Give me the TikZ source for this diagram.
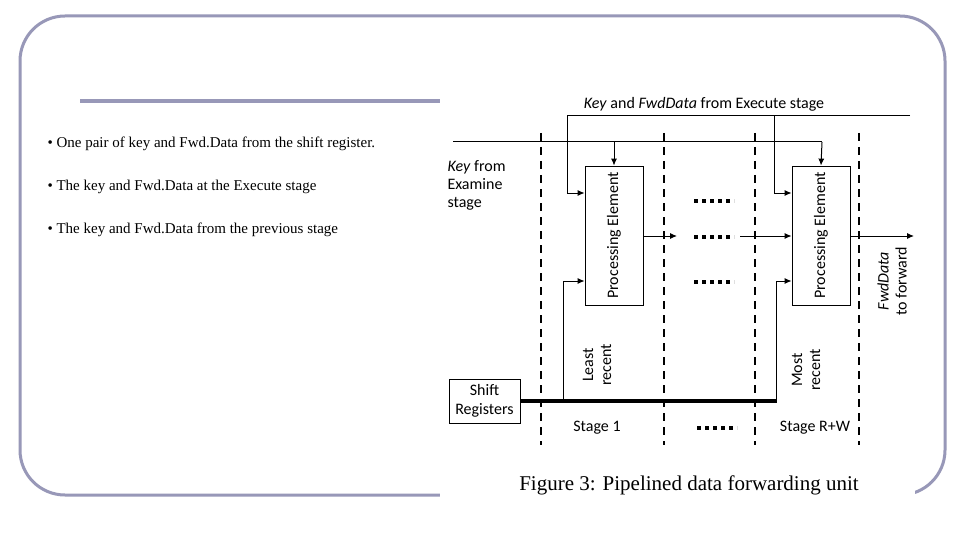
\documentclass[tikz,border=0pt]{standalone}
\usepackage{fontspec}
\setmainfont{Liberation Serif}
\newfontfamily\carl{Carlito}
\usetikzlibrary{arrows.meta}
\begin{document}
\begin{tikzpicture}[x=1pt,y=-1pt,
  dashv/.style={line width=2.5pt, dash pattern=on 8pt off 6pt},
  pe/.style={draw, line width=0.8pt, minimum width=58pt, minimum height=139pt, inner sep=0pt},
  lbl/.style={font=\carl\fontsize{16}{18}\selectfont, align=center},
  arr/.style={line width=1pt, -{Latex[length=7pt,width=6pt]}},
  ln/.style={line width=1pt},
  sq/.style={line width=4pt, dash pattern=on 4pt off 4pt},
  bul/.style={anchor=west, font=\fontsize{15}{17}\selectfont}]
\useasboundingbox (0,0) rectangle (960,540);
\fill[white] (0,0) rectangle (960,540);
\definecolor{fr}{RGB}{152,152,184}
\draw[draw=fr, line width=3pt, rounded corners=45pt] (20,16) rectangle (945,495);
\draw[draw=fr, line width=4pt] (80,101) -- (440,101);
\fill[white] (440,92) rectangle (915,502);
\node[bul] (b1) at (44,144) {\textbullet\ One pair of key and Fwd.Data from the shift register.};
\node[bul] (b2) at (44,187) {\textbullet\ The key and Fwd.Data at the Execute stage};
\node[bul] (b3) at (44,230) {\textbullet\ The key and Fwd.Data from the previous stage};
\foreach \x in {541,664,755,859} \draw[dashv] (\x,133) -- (\x,445);
\node[pe] (pe1) at (614,235.5) {};
\node[lbl, rotate=90] at (pe1.center) {Processing Element};
\node[pe] (pe2) at (821,235.5) {};
\node[lbl, rotate=90] at (pe2.center) {Processing Element};
\node[draw, line width=0.8pt, minimum width=71pt, minimum height=44pt, inner sep=0pt, lbl, font=\carl\fontsize{16}{19}\selectfont] (sr) at (484.5,401) {Shift\\Registers};
\node[lbl] (top) at (704,104) {\textit{Key} and \textit{FwdData} from Execute stage};
\coordinate (t0) at (910,116);
\coordinate (t1) at (567,116);
\coordinate (t2) at (774,116);
\draw[ln] (t0) -- (t1) -- (567,193);
\draw[arr] (567,193) -- (pe1.west |- 0,193);
\draw[arr] (t2) |- (pe2.west |- 0,193);
\coordinate (k0) at (453,142);
\draw[ln] (k0) -- (822,142);
\draw[arr] (614,142) -- (pe1.north);
\draw[arr] (822,142) -- (pe2.north);
\node[lbl, align=left, anchor=north west] (key) at (444,157) {\textit{Key} from\\Examine\\stage};
\draw[arr] (pe1.east |- 0,236) -- (677,236);
\draw[sq] (694,237) -- (734,237);
\draw[arr] (740,236) -- (pe2.west |- 0,236);
\draw[sq] (694,201) -- (734,201);
\draw[sq] (694,282) -- (734,282);
\draw[arr] (pe2.east |- 0,236) -- (914,236);
\node[lbl, rotate=90] (fwd) at (892,281) {\textit{FwdData}\\to forward};
\draw[line width=4pt] (sr.east) -- (777,401);
\draw[ln] (563,401) -- (563,281);
\draw[arr] (563,281) -- (pe1.west |- 0,281);
\draw[ln] (776,401) -- (776,281);
\draw[arr] (776,281) -- (pe2.west |- 0,281);
\node[lbl, rotate=90] (lr) at (597,365) {Least\\recent};
\node[lbl, rotate=90] (mr) at (806,370) {Most\\recent};
\node[lbl] (s1) at (597,428) {Stage 1};
\draw[sq] (697,428) -- (737,428);
\node[lbl] (sr2) at (815,428) {Stage R+W};
\node[font=\fontsize{21}{23}\selectfont] (cap) at (689,485) {Figure 3: Pipelined data forwarding unit};
\end{tikzpicture}
\end{document}
